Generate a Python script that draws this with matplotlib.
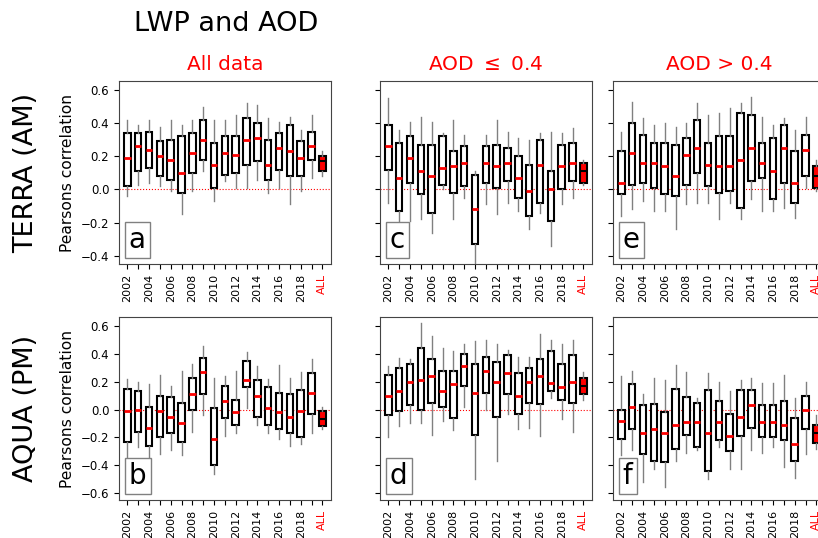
import matplotlib
matplotlib.use("Agg")
import matplotlib.pyplot as plt
from matplotlib.offsetbox import AnchoredText

years = list(range(2002, 2020))
labels = [str(y) if y % 2 == 0 else '' for y in years] + ['ALL']

# per panel: whisker low, q1, median, q3, whisker high (last entry = ALL)
a_wlo = [-0.04, 0.03, 0.04, 0.02, -0.01, -0.15, -0.01, 0.11, -0.07, 0.05, 0.01, 0.01, 0.06, -0.02, 0.01, -0.09, -0.01, 0.07, 0.08]
a_q1 = [0.02, 0.11, 0.13, 0.08, 0.06, -0.02, 0.10, 0.18, 0.01, 0.09, 0.10, 0.15, 0.17, 0.06, 0.12, 0.08, 0.08, 0.18, 0.11]
a_med = [0.19, 0.26, 0.24, 0.20, 0.18, 0.10, 0.22, 0.30, 0.15, 0.22, 0.21, 0.30, 0.31, 0.15, 0.25, 0.23, 0.19, 0.26, 0.17]
a_q3 = [0.34, 0.34, 0.35, 0.29, 0.30, 0.32, 0.34, 0.42, 0.28, 0.32, 0.32, 0.43, 0.40, 0.30, 0.34, 0.39, 0.29, 0.35, 0.20]
a_whi = [0.42, 0.39, 0.42, 0.38, 0.42, 0.39, 0.42, 0.50, 0.42, 0.42, 0.45, 0.52, 0.51, 0.43, 0.41, 0.44, 0.36, 0.45, 0.23]

c_wlo = [-0.08, -0.21, -0.19, -0.18, -0.26, 0.00, -0.18, -0.05, -0.46, -0.09, -0.15, -0.08, -0.13, -0.24, -0.14, -0.34, -0.09, -0.05, 0.03]
c_q1 = [0.12, -0.13, 0.04, -0.03, -0.14, 0.03, -0.02, 0.02, -0.33, 0.04, 0.01, 0.05, -0.05, -0.16, -0.08, -0.19, 0.00, 0.05, 0.04]
c_med = [0.26, 0.07, 0.19, 0.11, 0.08, 0.13, 0.14, 0.16, -0.12, 0.16, 0.14, 0.16, 0.07, -0.01, 0.15, 0.00, 0.14, 0.16, 0.11]
c_q3 = [0.39, 0.28, 0.32, 0.27, 0.27, 0.32, 0.23, 0.26, 0.09, 0.26, 0.27, 0.25, 0.20, 0.15, 0.30, 0.11, 0.27, 0.28, 0.16]
c_whi = [0.55, 0.36, 0.41, 0.44, 0.41, 0.34, 0.42, 0.33, 0.11, 0.33, 0.42, 0.35, 0.31, 0.30, 0.34, 0.35, 0.34, 0.37, 0.18]

e_wlo = [-0.16, -0.12, -0.07, -0.13, -0.13, -0.24, -0.09, -0.08, -0.08, -0.18, -0.08, -0.18, -0.06, -0.13, -0.13, -0.11, -0.17, 0.01, -0.01]
e_q1 = [-0.03, 0.03, 0.04, 0.01, -0.03, -0.04, 0.03, 0.10, 0.02, -0.02, -0.01, -0.11, 0.05, 0.07, -0.06, 0.04, -0.08, 0.08, 0.01]
e_med = [0.04, 0.22, 0.16, 0.16, 0.14, 0.08, 0.21, 0.25, 0.15, 0.14, 0.14, 0.18, 0.25, 0.16, 0.11, 0.25, 0.04, 0.24, 0.08]
e_q3 = [0.23, 0.40, 0.33, 0.28, 0.28, 0.27, 0.31, 0.42, 0.28, 0.32, 0.32, 0.46, 0.45, 0.28, 0.31, 0.39, 0.23, 0.33, 0.14]
e_whi = [0.35, 0.53, 0.43, 0.39, 0.40, 0.38, 0.40, 0.52, 0.45, 0.46, 0.49, 0.52, 0.56, 0.44, 0.39, 0.43, 0.36, 0.44, 0.18]

b_wlo = [-0.40, -0.27, -0.34, -0.32, -0.29, -0.33, -0.16, -0.04, -0.46, -0.19, -0.17, 0.01, -0.11, -0.17, -0.21, -0.26, -0.25, -0.17, -0.14]
b_q1 = [-0.23, -0.16, -0.26, -0.20, -0.17, -0.23, 0.00, 0.11, -0.40, -0.06, -0.11, 0.16, -0.05, -0.11, -0.14, -0.17, -0.20, -0.03, -0.12]
b_med = [-0.01, 0.00, -0.13, -0.01, -0.05, -0.10, 0.11, 0.27, -0.21, 0.06, -0.02, 0.21, 0.10, 0.01, -0.02, -0.05, -0.01, 0.12, -0.07]
b_q3 = [0.15, 0.13, 0.02, 0.10, 0.09, 0.05, 0.23, 0.37, 0.01, 0.17, 0.07, 0.35, 0.21, 0.16, 0.12, 0.11, 0.14, 0.26, -0.01]
b_whi = [0.22, 0.20, 0.18, 0.25, 0.17, 0.28, 0.33, 0.46, 0.23, 0.24, 0.28, 0.41, 0.31, 0.22, 0.32, 0.23, 0.27, 0.36, 0.02]

d_wlo = [-0.20, -0.12, -0.10, -0.10, -0.18, -0.08, -0.15, 0.02, -0.50, 0.00, -0.37, -0.03, -0.14, -0.13, -0.19, 0.08, -0.07, -0.16, 0.07]
d_q1 = [-0.04, -0.01, 0.03, 0.00, 0.05, 0.02, -0.06, 0.17, -0.18, 0.12, -0.05, 0.11, -0.03, 0.05, 0.04, 0.13, 0.07, 0.05, 0.11]
d_med = [0.10, 0.13, 0.20, 0.21, 0.24, 0.13, 0.18, 0.31, 0.12, 0.28, 0.20, 0.26, 0.10, 0.20, 0.24, 0.19, 0.16, 0.20, 0.17]
d_q3 = [0.25, 0.30, 0.33, 0.44, 0.36, 0.28, 0.28, 0.40, 0.33, 0.38, 0.34, 0.39, 0.26, 0.30, 0.36, 0.42, 0.33, 0.39, 0.23]
d_whi = [0.31, 0.37, 0.36, 0.62, 0.53, 0.44, 0.42, 0.47, 0.49, 0.50, 0.47, 0.43, 0.38, 0.38, 0.54, 0.50, 0.47, 0.50, 0.27]

f_wlo = [-0.33, -0.29, -0.52, -0.43, -0.56, -0.37, -0.31, -0.29, -0.50, -0.27, -0.43, -0.43, -0.29, -0.31, -0.27, -0.41, -0.49, -0.32, -0.28]
f_q1 = [-0.21, -0.14, -0.32, -0.37, -0.38, -0.28, -0.18, -0.27, -0.44, -0.22, -0.30, -0.19, -0.13, -0.20, -0.20, -0.22, -0.37, -0.14, -0.24]
f_med = [-0.08, 0.02, -0.17, -0.14, -0.17, -0.11, -0.09, -0.09, -0.17, -0.09, -0.19, -0.05, 0.03, -0.09, -0.09, -0.11, -0.25, 0.00, -0.17]
f_q3 = [0.00, 0.18, 0.03, 0.04, -0.02, 0.15, 0.09, 0.05, 0.14, 0.06, -0.03, 0.14, 0.14, 0.03, 0.03, 0.06, -0.06, 0.10, -0.11]
f_whi = [0.24, 0.28, 0.11, 0.23, 0.21, 0.32, 0.27, 0.08, 0.26, 0.20, 0.13, 0.21, 0.23, 0.19, 0.19, 0.25, 0.08, 0.20, -0.04]

panels = [
    ('a', a_wlo, a_q1, a_med, a_q3, a_whi),
    ('c', c_wlo, c_q1, c_med, c_q3, c_whi),
    ('e', e_wlo, e_q1, e_med, e_q3, e_whi),
    ('b', b_wlo, b_q1, b_med, b_q3, b_whi),
    ('d', d_wlo, d_q1, d_med, d_q3, d_whi),
    ('f', f_wlo, f_q1, f_med, f_q3, f_whi),
]
col_titles = ['All data', 'AOD $\\leq$ 0.4', 'AOD > 0.4']
row_titles = ['TERRA (AM)', 'AQUA (PM)']
row_ylims = [(-0.45, 0.655), (-0.65, 0.665)]
row_yticks = [[-0.4, -0.2, 0.0, 0.2, 0.4, 0.6], [-0.6, -0.4, -0.2, 0.0, 0.2, 0.4, 0.6]]

W, H = 818, 538
fig = plt.figure(figsize=(W / 100, H / 100), dpi=100)

col_left = [119, 380, 613]
row_top = [81, 317]
ax_w, ax_h = 212, 183

pos = list(range(1, 20))
for k, (letter, wlo, q1, med, q3, whi) in enumerate(panels):
    r, c = divmod(k, 3)
    ax = fig.add_axes([col_left[c] / W, 1 - (row_top[r] + ax_h) / H, ax_w / W, ax_h / H])
    stats = [dict(whislo=wlo[i], q1=q1[i], med=med[i], q3=q3[i], whishi=whi[i]) for i in range(len(pos))]
    # yearly boxes
    ax.bxp(stats[:-1], positions=pos[:-1], widths=0.6, showcaps=False, showfliers=False,
           patch_artist=True,
           boxprops=dict(facecolor='white', edgecolor='black', linewidth=1.5),
           medianprops=dict(color='red', linewidth=2),
           whiskerprops=dict(color='grey', linewidth=1))
    # all years together
    ax.bxp(stats[-1:], positions=pos[-1:], widths=0.6, showcaps=False, showfliers=False,
           patch_artist=True,
           boxprops=dict(facecolor='red', edgecolor='black', linewidth=1.5),
           medianprops=dict(color='black', linewidth=1.5),
           whiskerprops=dict(color='grey', linewidth=1))
    ax.axhline(0, color='red', linestyle=':', linewidth=0.8, zorder=0)
    ax.set_xlim(0.23, 19.8)
    ax.set_ylim(*row_ylims[r])
    ax.set_yticks(row_yticks[r])
    ax.set_xticks(pos)
    ax.set_xticklabels(labels, rotation=90, fontsize=8)
    ax.get_xticklabels()[-1].set_color('red')
    ax.tick_params(axis='y', labelsize=8.5)
    for sp in ax.spines.values():
        sp.set_color('#444444')
    if c == 0:
        ax.set_ylabel('Pearsons correlation', fontsize=11.2)
        fig.text(26 / W, 1 - (row_top[r] + ax_h / 2) / H, row_titles[r], rotation=90,
                 fontsize=19.5, ha='center', va='center')
    else:
        ax.set_yticklabels([])
    if r == 0:
        ax.set_title(col_titles[c], color='red', fontsize=14.5, pad=8)
    at = AnchoredText(letter, loc='lower left', prop=dict(size=20), borderpad=0.2, pad=0.15)
    at.patch.set_edgecolor('grey')
    ax.add_artist(at)

fig.text(226 / W, 1 - 24 / H, 'LWP and AOD', fontsize=19.5, ha='center', va='center')

fig.savefig('out.png', dpi=100)
